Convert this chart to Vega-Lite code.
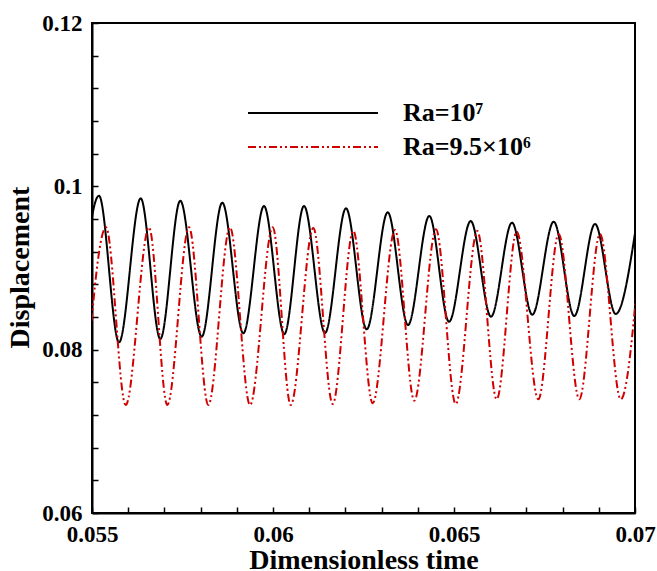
{
  "$schema": "https://vega.github.io/schema/vega-lite/v6.json",
  "width": 543,
  "height": 490,
  "autosize": {"type": "none"},
  "padding": {"left": 92, "top": 23, "right": 22, "bottom": 58},
  "background": "white",
  "config": {
    "font": "Liberation Serif",
    "view": {"stroke": "black", "strokeWidth": 2},
    "axis": {
      "domainColor": "black", "domainWidth": 2,
      "ticks": true, "tickColor": "black", "tickWidth": 1.5, "tickSize": -6,
      "labelColor": "black", "labelFont": "Liberation Serif", "labelFontWeight": "bold", "labelFontSize": 23,
      "titleFont": "Liberation Serif", "titleFontWeight": "bold", "titleFontSize": 28, "titleColor": "black",
      "grid": false, "labelFlush": false, "labelOverlap": false
    }
  },
  "data": {"values": [
    {"series": "Ra=10⁷", "t": 0.054605, "d": 0.0808},
    {"series": "Ra=10⁷", "t": 0.055193, "d": 0.09885},
    {"series": "Ra=10⁷", "t": 0.055746, "d": 0.0809},
    {"series": "Ra=10⁷", "t": 0.056345, "d": 0.09853},
    {"series": "Ra=10⁷", "t": 0.056887, "d": 0.08131},
    {"series": "Ra=10⁷", "t": 0.057439, "d": 0.09824},
    {"series": "Ra=10⁷", "t": 0.05803, "d": 0.08159},
    {"series": "Ra=10⁷", "t": 0.058599, "d": 0.098},
    {"series": "Ra=10⁷", "t": 0.05918, "d": 0.082},
    {"series": "Ra=10⁷", "t": 0.059751, "d": 0.09759},
    {"series": "Ra=10⁷", "t": 0.060312, "d": 0.0819},
    {"series": "Ra=10⁷", "t": 0.060856, "d": 0.09759},
    {"series": "Ra=10⁷", "t": 0.061436, "d": 0.08204},
    {"series": "Ra=10⁷", "t": 0.062017, "d": 0.09731},
    {"series": "Ra=10⁷", "t": 0.062588, "d": 0.08249},
    {"series": "Ra=10⁷", "t": 0.063169, "d": 0.09682},
    {"series": "Ra=10⁷", "t": 0.063729, "d": 0.08302},
    {"series": "Ra=10⁷", "t": 0.064318, "d": 0.09637},
    {"series": "Ra=10⁷", "t": 0.064862, "d": 0.08342},
    {"series": "Ra=10⁷", "t": 0.065461, "d": 0.09575},
    {"series": "Ra=10⁷", "t": 0.066022, "d": 0.08404},
    {"series": "Ra=10⁷", "t": 0.066602, "d": 0.09555},
    {"series": "Ra=10⁷", "t": 0.067163, "d": 0.08428},
    {"series": "Ra=10⁷", "t": 0.067754, "d": 0.09567},
    {"series": "Ra=10⁷", "t": 0.068323, "d": 0.08412},
    {"series": "Ra=10⁷", "t": 0.068895, "d": 0.09539},
    {"series": "Ra=10⁷", "t": 0.069467, "d": 0.08437},
    {"series": "Ra=10⁷", "t": 0.070036, "d": 0.0953},
    {"series": "Ra=9.5×10⁶", "t": 0.054793, "d": 0.0732},
    {"series": "Ra=9.5×10⁶", "t": 0.055387, "d": 0.09498},
    {"series": "Ra=9.5×10⁶", "t": 0.055931, "d": 0.07322},
    {"series": "Ra=9.5×10⁶", "t": 0.056575, "d": 0.09498},
    {"series": "Ra=9.5×10⁶", "t": 0.05708, "d": 0.07322},
    {"series": "Ra=9.5×10⁶", "t": 0.05768, "d": 0.09498},
    {"series": "Ra=9.5×10⁶", "t": 0.058213, "d": 0.07322},
    {"series": "Ra=9.5×10⁶", "t": 0.058812, "d": 0.09498},
    {"series": "Ra=9.5×10⁶", "t": 0.059365, "d": 0.07322},
    {"series": "Ra=9.5×10⁶", "t": 0.059992, "d": 0.09498},
    {"series": "Ra=9.5×10⁶", "t": 0.060489, "d": 0.07322},
    {"series": "Ra=9.5×10⁶", "t": 0.061113, "d": 0.0949},
    {"series": "Ra=9.5×10⁶", "t": 0.061649, "d": 0.07335},
    {"series": "Ra=9.5×10⁶", "t": 0.062218, "d": 0.09457},
    {"series": "Ra=9.5×10⁶", "t": 0.062754, "d": 0.07343},
    {"series": "Ra=9.5×10⁶", "t": 0.06337, "d": 0.09465},
    {"series": "Ra=9.5×10⁶", "t": 0.063903, "d": 0.07375},
    {"series": "Ra=9.5×10⁶", "t": 0.064503, "d": 0.09473},
    {"series": "Ra=9.5×10⁶", "t": 0.065047, "d": 0.07335},
    {"series": "Ra=9.5×10⁶", "t": 0.065644, "d": 0.09453},
    {"series": "Ra=9.5×10⁶", "t": 0.06618, "d": 0.07392},
    {"series": "Ra=9.5×10⁶", "t": 0.066732, "d": 0.09445},
    {"series": "Ra=9.5×10⁶", "t": 0.067329, "d": 0.07392},
    {"series": "Ra=9.5×10⁶", "t": 0.067892, "d": 0.09416},
    {"series": "Ra=9.5×10⁶", "t": 0.068461, "d": 0.07392},
    {"series": "Ra=9.5×10⁶", "t": 0.069033, "d": 0.09416},
    {"series": "Ra=9.5×10⁶", "t": 0.069605, "d": 0.07392},
    {"series": "Ra=9.5×10⁶", "t": 0.07017, "d": 0.0941}
  ]},
  "mark": {"type": "line", "interpolate": "monotone", "clip": true, "strokeWidth": 2},
  "encoding": {
    "x": {
      "field": "t", "type": "quantitative",
      "scale": {"domain": [0.055, 0.07], "nice": false, "zero": false},
      "axis": {
        "values": [0.055, 0.056, 0.057, 0.058, 0.059, 0.06, 0.061, 0.062, 0.063, 0.064, 0.065, 0.066, 0.067, 0.068, 0.069, 0.07],
        "encode": {"ticks": {"update": {"y2": {"signal": "abs(round(datum.value*200)-datum.value*200)<1e-6 ? -10 : -6"}}}},
        "labelExpr": "abs(round(datum.value*200)-datum.value*200)<1e-6 ? format(datum.value, '~g') : ''",
        "labelPadding": 16,
        "title": "Dimensionless time",
        "titleX": 271.5, "titleY": 55, "titleBaseline": "alphabetic", "titleAlign": "center"
      }
    },
    "y": {
      "field": "d", "type": "quantitative",
      "scale": {"domain": [0.06, 0.12], "nice": false, "zero": false},
      "axis": {
        "values": [0.06, 0.064, 0.068, 0.072, 0.076, 0.08, 0.084, 0.088, 0.092, 0.096, 0.1, 0.104, 0.108, 0.112, 0.116, 0.12],
        "encode": {"ticks": {"update": {"x2": {"signal": "abs(round(datum.value*50)-datum.value*50)<1e-6 ? 10 : 6"}}}},
        "labelExpr": "abs(round(datum.value*50)-datum.value*50)<1e-6 ? format(datum.value, '~g') : ''",
        "labelPadding": 16,
        "title": "Displacement",
        "titleX": -64, "titleY": 244, "titleAngle": -90, "titleBaseline": "alphabetic", "titleAlign": "center"
      }
    },
    "color": {
      "field": "series", "type": "nominal",
      "scale": {"domain": ["Ra=10⁷", "Ra=9.5×10⁶"], "range": ["#000000", "#d10000"]},
      "legend": {
        "title": null, "orient": "none", "legendX": 207, "legendY": 76, "padding": 0,
        "symbolType": "M-5,0H5", "symbolSize": 676, "symbolStrokeWidth": 2,
        "labelFont": "Liberation Serif", "labelFontWeight": "bold", "labelFontSize": 26, "labelColor": "black",
        "labelOffset": 76, "labelLimit": 400, "rowPadding": 7
      }
    },
    "strokeDash": {
      "field": "series", "type": "nominal",
      "scale": {"domain": ["Ra=10⁷", "Ra=9.5×10⁶"], "range": [[1, 0], [8, 3, 2, 3, 2, 3]]},
      "legend": {
        "title": null, "orient": "none", "legendX": 207, "legendY": 76, "padding": 0,
        "symbolType": "M-5,0H5", "symbolSize": 676, "symbolStrokeWidth": 2,
        "labelFont": "Liberation Serif", "labelFontWeight": "bold", "labelFontSize": 26, "labelColor": "black",
        "labelOffset": 76, "labelLimit": 400, "rowPadding": 7
      }
    }
  }
}
